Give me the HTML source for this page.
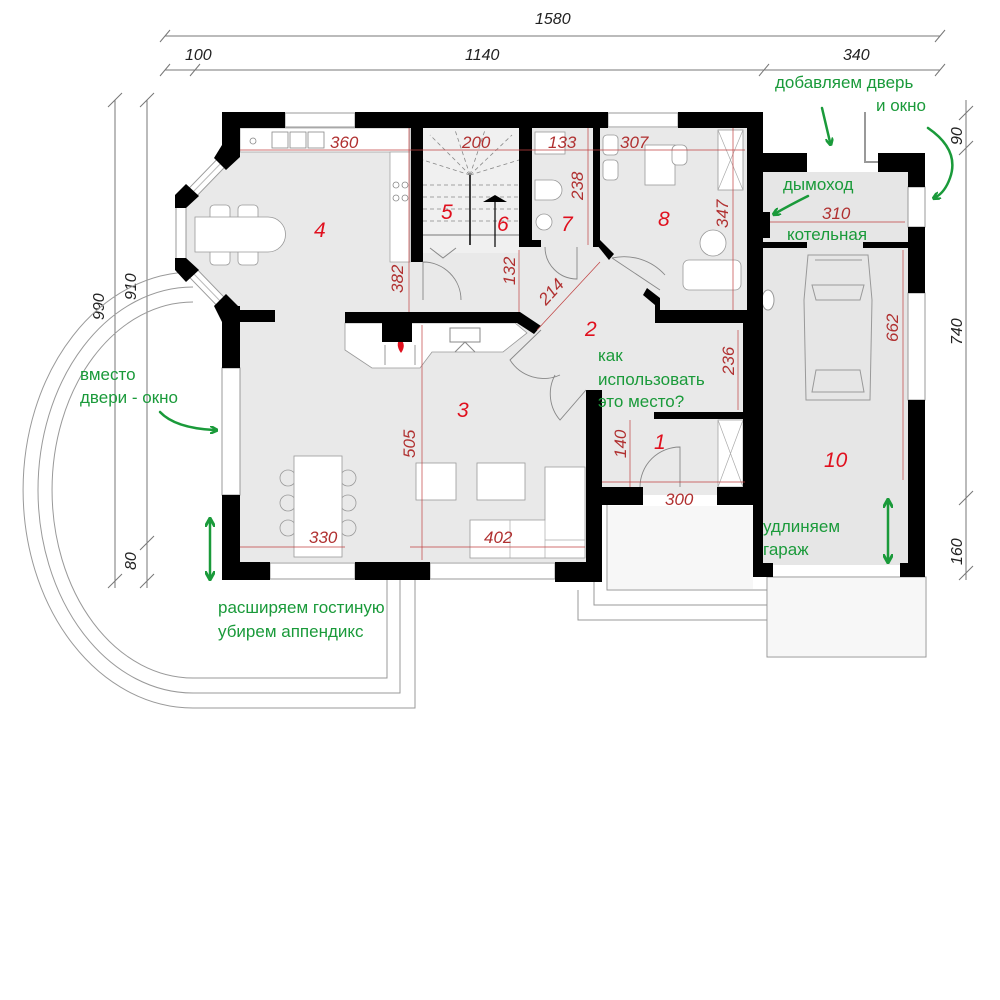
<!DOCTYPE html>
<html><head><meta charset="utf-8"><style>
html,body{margin:0;padding:0;background:#fff}
svg{display:block}
.d{fill:#b03030;font-family:"Liberation Sans",sans-serif;font-style:italic;font-size:17px}
.n{fill:#e0101e;font-family:"Liberation Sans",sans-serif;font-style:italic;font-size:21px}
.g{fill:#1a9a3a;font-family:"Liberation Sans","DejaVu Sans",sans-serif;font-size:17px}
.k{fill:#222;font-family:"Liberation Sans",sans-serif;font-style:italic;font-size:16px}
</style></head><body>
<svg width="1000" height="1000" viewBox="0 0 1000 1000" xmlns="http://www.w3.org/2000/svg">
<defs>
<marker id="ah" markerWidth="8" markerHeight="8" refX="4" refY="4" orient="auto" markerUnits="userSpaceOnUse"><path d="M0,0 L8,4 L0,8" fill="none" stroke="#1a9a3a" stroke-width="2.5"/></marker>
<marker id="ah2" markerWidth="10" markerHeight="10" refX="5" refY="5" orient="auto-start-reverse" markerUnits="userSpaceOnUse"><path d="M0,0 L9,5 L0,10" fill="none" stroke="#1a9a3a" stroke-width="3"/></marker>
</defs>

<g stroke="#777" stroke-width="1" fill="none">
<line x1="165" y1="36" x2="940" y2="36"/>
<line x1="165" y1="70" x2="940" y2="70"/>
<path d="M160,42 L170,30 M935,42 L945,30 M160,76 L170,64 M190,76 L200,64 M759,76 L769,64 M935,76 L945,64"/>
<line x1="115" y1="100" x2="115" y2="588"/>
<line x1="147" y1="100" x2="147" y2="588"/>
<path d="M108,107 L122,93 M140,107 L154,93 M140,550 L154,536 M140,588 L154,574 M108,588 L122,574"/>
<line x1="966" y1="100" x2="966" y2="580"/>
<path d="M959,120 L973,106 M959,155 L973,141 M959,505 L973,491 M959,580 L973,566"/>
</g>
<text class="k" x="535" y="24">1580</text>
<text class="k" x="185" y="60">100</text>
<text class="k" x="465" y="60">1140</text>
<text class="k" x="843" y="60">340</text>
<text class="k" transform="translate(104,320) rotate(-90)">990</text>
<text class="k" transform="translate(136,300) rotate(-90)">910</text>
<text class="k" transform="translate(136,570) rotate(-90)">80</text>
<text class="k" transform="translate(962,145) rotate(-90)">90</text>
<text class="k" transform="translate(962,345) rotate(-90)">740</text>
<text class="k" transform="translate(962,565) rotate(-90)">160</text>

<g fill="none" stroke="#999" stroke-width="1">
<path d="M193,272 A170,218 0 0 0 193,708 L415,708 L415,580"/>
<path d="M193,287 A155,203 0 0 0 193,693 L400,693 L400,580"/>
<path d="M193,302 A141,188 0 0 0 193,678 L387,678 L387,580"/>
<rect x="767" y="577" width="159" height="80"/>
<path d="M607,505 L607,590 L767,590 M594,505 L594,605 L767,605 M578,590 L578,620 L767,620"/>
</g>
<rect x="768" y="578" width="157" height="78" fill="#f7f7f7"/>
<rect x="608" y="506" width="145" height="83" fill="#f7f7f7"/>

<polygon points="222,157 240,128 747,128 747,495 602,495 602,562 240,562 240,322 222,310 197,280 185,262 185,203 197,187" fill="#e9e9e9"/>
<rect x="763" y="172" width="145" height="393" fill="#e6e6e6"/>
<rect x="240" y="128" width="170" height="24" fill="#fff" stroke="#999" stroke-width="0.7"/>
<rect x="390" y="152" width="20" height="110" fill="#fff" stroke="#999" stroke-width="0.7"/>
<g fill="none" stroke="#888" stroke-width="0.8">
<rect x="272" y="132" width="16" height="16"/><rect x="290" y="132" width="16" height="16"/><rect x="308" y="132" width="16" height="16"/>
<circle cx="253" cy="141" r="3"/>
<circle cx="396" cy="185" r="3"/><circle cx="405" cy="185" r="3"/><circle cx="396" cy="198" r="3"/><circle cx="405" cy="198" r="3"/>
</g>
<g fill="#fff" stroke="#999" stroke-width="0.8">
<rect x="210" y="205" width="20" height="20" rx="4"/><rect x="238" y="205" width="20" height="20" rx="4"/>
<rect x="210" y="245" width="20" height="20" rx="4"/><rect x="238" y="245" width="20" height="20" rx="4"/>
<path d="M195,217 L268,217 A15,15 0 0 1 268,252 L195,252 Z"/>
</g>

<rect x="423" y="128" width="96" height="125" fill="#f0f0f0"/>
<g stroke="#888" stroke-width="0.8" stroke-dasharray="4,3" fill="none">
<path d="M470,175 L430,135 M470,175 L455,130 M470,175 L485,130 M470,175 L512,135 M470,175 L423,160 M470,175 L519,160"/>
<path d="M423,185 L519,185 M423,197 L519,197 M423,209 L519,209 M423,221 L519,221"/>
</g>
<path d="M423,235 L519,235" stroke="#777" stroke-width="1" fill="none"/>
<line x1="470" y1="175" x2="470" y2="245" stroke="#000" stroke-width="1.5"/>
<line x1="495" y1="200" x2="495" y2="247" stroke="#000" stroke-width="1.2"/>
<polygon points="483,202 495,195 507,202" fill="#000"/>
<path d="M430,248 L443,258 L456,248" fill="none" stroke="#888"/>

<g fill="#fff" stroke="#999" stroke-width="0.8">
<rect x="535" y="132" width="30" height="22"/>
<path d="M535,180 L552,180 A10,10 0 0 1 552,200 L535,200 Z"/>
<circle cx="544" cy="222" r="8"/>
</g>

<g fill="#fff" stroke="#999" stroke-width="0.8">
<rect x="603" y="135" width="15" height="20" rx="4"/><rect x="603" y="160" width="15" height="20" rx="4"/>
<rect x="645" y="145" width="30" height="40"/><rect x="672" y="145" width="15" height="20" rx="5"/>
<rect x="718" y="130" width="25" height="60"/>
<circle cx="713" cy="243" r="13"/>
<rect x="683" y="260" width="58" height="30" rx="6"/>
</g>
<path d="M718,130 L743,190 M743,130 L718,190" stroke="#aaa" stroke-width="0.7"/>

<g fill="none" stroke="#999" stroke-width="1">
<path d="M808,255 L868,255 L872,300 L870,400 L806,400 L804,300 Z"/>
<path d="M815,260 L862,260 M812,285 L864,285 L860,300 L816,300 Z M816,370 L860,370 L864,392 L812,392 Z"/>
</g>
<ellipse cx="768" cy="300" rx="6" ry="10" fill="#fff" stroke="#999"/>

<g fill="#fff" stroke="#999" stroke-width="0.8">
<g fill="none"><circle cx="288" cy="478" r="8"/><circle cx="288" cy="503" r="8"/><circle cx="288" cy="528" r="8"/>
<circle cx="348" cy="478" r="8"/><circle cx="348" cy="503" r="8"/><circle cx="348" cy="528" r="8"/></g>
<rect x="294" y="456" width="48" height="101"/>
<rect x="416" y="463" width="40" height="37"/>
<rect x="477" y="463" width="48" height="37"/>
<path d="M545,467 L585,467 L585,558 L470,558 L470,520 L545,520 Z"/>
</g>
<path d="M545,520 L545,558 M510,520 L510,558 M545,540 L585,540" stroke="#aaa" stroke-width="0.7"/>

<polygon points="345,323 515,323 527,333 503,352 432,352 420,368 372,368 345,350" fill="#fff" stroke="#999" stroke-width="0.8"/>
<path d="M450,328 L480,328 L480,342 L450,342 Z M455,352 L465,342 L475,352" fill="none" stroke="#888"/>
<path d="M400,338 Q395,345 401,353 Q407,345 400,338 Z" fill="#e0101e"/>
<path d="M385,345 L385,365 M415,345 L415,365" stroke="#999"/>

<rect x="718" y="420" width="25" height="67" fill="#fff" stroke="#999" stroke-width="0.7"/>
<path d="M718,420 L743,487 M743,420 L718,487" stroke="#aaa" stroke-width="0.7"/>

<g fill="#fff" stroke="#999" stroke-width="1">
<rect x="285" y="113" width="70" height="14"/>
<rect x="608" y="113" width="70" height="14"/>
<rect x="222" y="368" width="18" height="127"/>
<rect x="270" y="563" width="85" height="16"/>
<rect x="430" y="563" width="125" height="16"/>
<rect x="908" y="187" width="17" height="40"/>
<rect x="908" y="293" width="17" height="107"/>
<rect x="176" y="203" width="10" height="59"/>
</g>
<!-- bay diagonal windows -->
<g fill="none" stroke-linecap="butt">
<path d="M224,160 L193,192 M193,273 L224,305" stroke="#999" stroke-width="12"/>
<path d="M224,160 L193,192 M193,273 L224,305" stroke="#fff" stroke-width="10"/>
<path d="M224,160 L193,192 M193,273 L224,305" stroke="#bbb" stroke-width="1"/>
</g>

<g fill="#000">
<rect x="222" y="112" width="63" height="16"/>
<rect x="355" y="112" width="253" height="16"/>
<rect x="678" y="112" width="85" height="16"/>
<rect x="222" y="112" width="18" height="45"/>
<polygon points="222,145 240,150 240,157 226,170 214,158"/>
<polygon points="175,195 186,184 199,196 186,208 175,208"/>
<polygon points="175,258 186,258 199,270 186,282 175,270"/>
<polygon points="214,306 226,294 240,308 240,322 222,322"/>
<rect x="222" y="306" width="18" height="62"/>
<rect x="240" y="310" width="35" height="12"/>
<rect x="222" y="495" width="18" height="85"/>
<rect x="222" y="562" width="48" height="18"/>
<rect x="355" y="562" width="75" height="18"/>
<rect x="555" y="562" width="47" height="20"/>
<rect x="586" y="390" width="16" height="192"/>
<rect x="411" y="128" width="12" height="134"/>
<rect x="519" y="128" width="13" height="119"/>
<rect x="519" y="240" width="22" height="7"/>
<rect x="593" y="128" width="7" height="119"/>
<polygon points="593,240 600,240 614,254 609,260"/>
<polygon points="345,312 520,312 541,326 534,334 517,323 345,323"/>
<rect x="382" y="312" width="30" height="30"/>
<polygon points="647,288 660,298 660,310 763,310 763,323 655,323 655,305 643,295"/>
<rect x="747" y="112" width="16" height="218"/>
<rect x="743" y="323" width="17" height="89"/>
<rect x="654" y="412" width="106" height="7"/>
<rect x="743" y="412" width="17" height="93"/>
<rect x="602" y="487" width="41" height="18"/>
<rect x="717" y="487" width="46" height="18"/>
<rect x="753" y="248" width="10" height="329"/>
<rect x="753" y="563" width="20" height="14"/>
<rect x="763" y="153" width="44" height="19"/>
<rect x="878" y="153" width="47" height="19"/>
<rect x="908" y="172" width="17" height="15"/>
<rect x="908" y="227" width="17" height="66"/>
<rect x="908" y="400" width="17" height="177"/>
<rect x="900" y="563" width="25" height="14"/>
<rect x="760" y="212" width="10" height="26"/>
<rect x="763" y="242" width="44" height="6"/>
<rect x="863" y="242" width="62" height="6"/>
</g>
<path d="M865,112 L865,162 L878,162" fill="none" stroke="#999" stroke-width="2"/>

<g fill="none" stroke="#888" stroke-width="0.9">
<path d="M423,300 L423,262 A38,38 0 0 1 461,300"/>
<path d="M545,247 A32,32 0 0 0 577,279 L577,247"/>
<path d="M640,487 A40,40 0 0 1 680,447 L680,487"/>
<path d="M612,258 L660,290 M612,258 A55,55 0 0 1 665,275"/>
<path d="M541,330 L510,360 A40,40 0 0 0 560,375 M586,390 L560,420 A40,40 0 0 1 555,375"/>
</g>

<g stroke="#c04040" stroke-width="0.7" fill="none">
<line x1="240" y1="150" x2="745" y2="150"/>
<line x1="409" y1="128" x2="409" y2="312"/>
<line x1="519" y1="250" x2="519" y2="312"/>
<line x1="588" y1="128" x2="588" y2="245"/>
<line x1="733" y1="128" x2="733" y2="310"/>
<line x1="422" y1="325" x2="422" y2="560"/>
<line x1="240" y1="547" x2="345" y2="547"/>
<line x1="410" y1="547" x2="585" y2="547"/>
<line x1="630" y1="420" x2="630" y2="487"/>
<line x1="602" y1="482" x2="745" y2="482"/>
<line x1="738" y1="330" x2="738" y2="410"/>
<line x1="903" y1="250" x2="903" y2="480"/>
<line x1="770" y1="222" x2="905" y2="222"/>
<line x1="537" y1="330" x2="600" y2="262"/>
</g>
<text class="d" x="330" y="148">360</text>
<text class="d" x="462" y="148">200</text>
<text class="d" x="548" y="148">133</text>
<text class="d" x="620" y="148">307</text>
<text class="d" transform="translate(583,200) rotate(-90)">238</text>
<text class="d" transform="translate(728,228) rotate(-90)">347</text>
<text class="d" transform="translate(403,293) rotate(-90)">382</text>
<text class="d" transform="translate(515,285) rotate(-90)">132</text>
<text class="d" transform="translate(546,306) rotate(-48)">214</text>
<text class="d" transform="translate(734,375) rotate(-90)">236</text>
<text class="d" transform="translate(415,458) rotate(-90)">505</text>
<text class="d" transform="translate(626,458) rotate(-90)">140</text>
<text class="d" x="665" y="505">300</text>
<text class="d" x="309" y="543">330</text>
<text class="d" x="484" y="543">402</text>
<text class="d" transform="translate(898,342) rotate(-90)">662</text>
<text class="d" x="822" y="219">310</text>

<text class="n" x="441" y="219">5</text>
<text class="n" x="497" y="231">6</text>
<text class="n" x="561" y="231">7</text>
<text class="n" x="658" y="226">8</text>
<text class="n" x="314" y="237">4</text>
<text class="n" x="457" y="417">3</text>
<text class="n" x="585" y="336">2</text>
<text class="n" x="654" y="449">1</text>
<text class="n" x="824" y="467">10</text>

<text class="g" x="775" y="88">добавляем дверь</text>
<text class="g" x="876" y="111">и окно</text>
<text class="g" x="783" y="190">дымоход</text>
<text class="g" x="787" y="240">котельная</text>
<text class="g" x="598" y="361">как</text>
<text class="g" x="598" y="385">использовать</text>
<text class="g" x="598" y="407">это место?</text>
<text class="g" x="80" y="380">вместо</text>
<text class="g" x="80" y="403">двери - окно</text>
<text class="g" x="218" y="613">расширяем гостиную</text>
<text class="g" x="218" y="637">убирем аппендикс</text>
<text class="g" x="763" y="532">удлиняем</text>
<text class="g" x="763" y="555">гараж</text>
<g fill="none" stroke="#1a9a3a" stroke-width="2.5" stroke-linecap="round">
<path d="M822,108 Q826,125 830,142" marker-end="url(#ah)"/>
<path d="M928,128 Q960,150 950,178 Q945,192 936,197" marker-end="url(#ah)"/>
<path d="M808,196 Q790,205 776,213" marker-end="url(#ah)"/>
<path d="M160,412 Q175,428 214,430" marker-end="url(#ah)"/>
<path d="M210,522 L210,576" marker-start="url(#ah2)" marker-end="url(#ah2)"/>
<path d="M888,503 L888,559" marker-start="url(#ah2)" marker-end="url(#ah2)"/>
</g>
</svg>
</body></html>
